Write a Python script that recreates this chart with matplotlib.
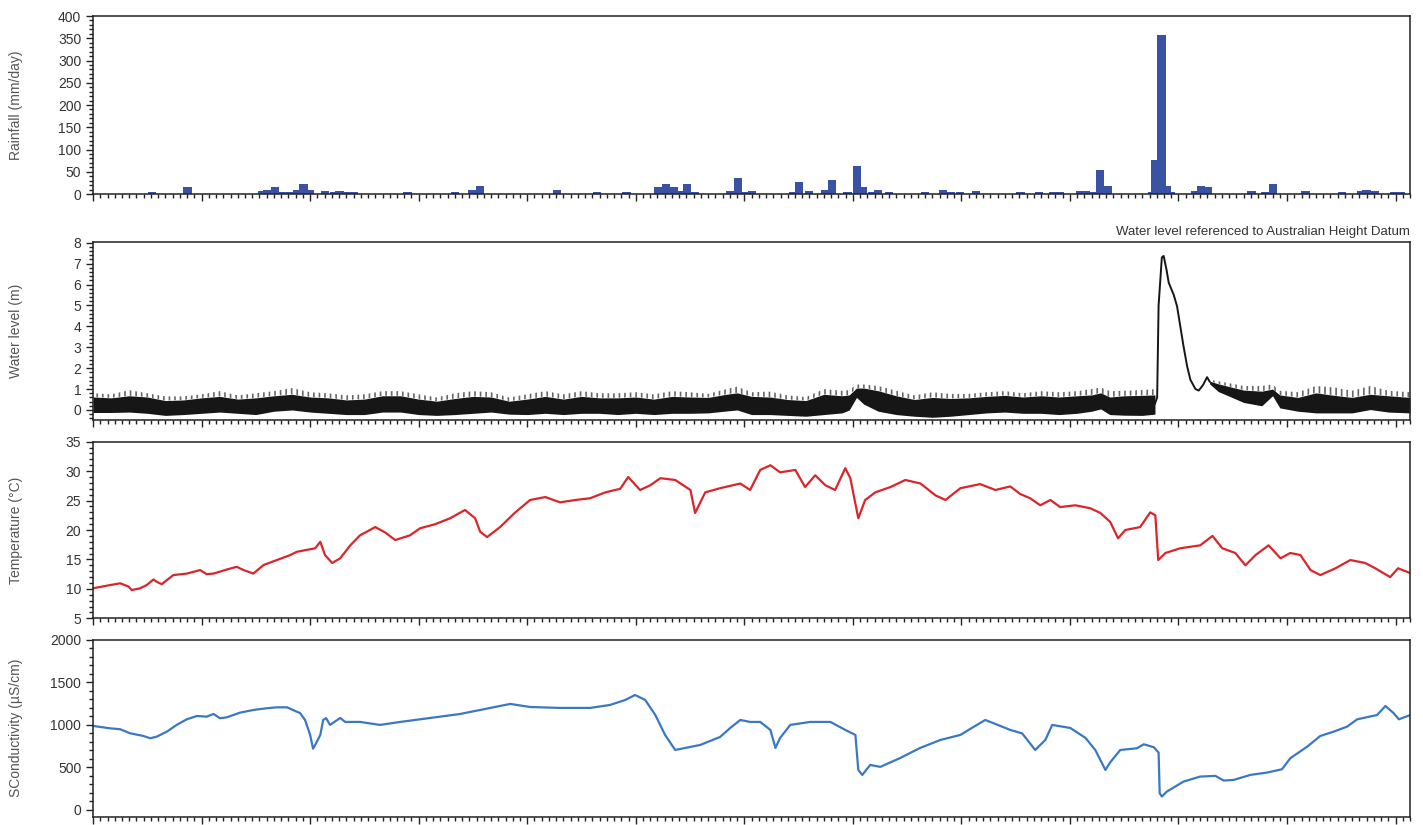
import numpy as np
import matplotlib
matplotlib.use('Agg')
import matplotlib.pyplot as plt
from matplotlib.ticker import MultipleLocator

plt.rcParams['font.family'] = ['Liberation Sans', 'DejaVu Sans']
plt.rcParams['hatch.linewidth'] = 1.2

# daily rainfall (day of record, mm/day)
rain_day = [16.2, 26.1, 46.6, 48.0, 50.2, 52.5, 54.7, 56.4, 58.2, 60.0, 64.1, 66.5, 68.1,
            69.8, 72.2, 86.9, 100.1, 104.8, 107.0, 128.3, 139.3, 147.4, 156.2, 158.3,
            160.6, 162.4, 164.2, 166.3, 176.1, 178.3, 180.1, 182.1, 193.5, 195.2, 197.8,
            202.4, 204.2, 208.5, 211.1, 212.7, 215.2, 216.9, 219.9, 230.0, 234.9, 237.2,
            239.7, 244.1, 256.3, 261.4, 265.4, 267.3, 272.9, 274.5, 276.6, 278.3, 280.6,
            292.6, 293.6, 295.3, 296.9, 298.0, 304.7, 306.3, 308.0, 320.2, 323.9, 326.1,
            335.1, 345.2, 350.4, 352.0, 354.2, 359.7, 361.4]
rain_mm = [4, 15, 6, 10, 15, 4, 4, 10, 22, 10, 6, 4, 6,
           4, 4, 4, 4, 10, 19, 10, 4, 4, 15, 22,
           15, 6, 22, 4, 6, 35, 4, 6, 4, 26, 6,
           10, 31, 4, 63, 15, 4, 10, 4, 4, 10, 4,
           4, 6, 4, 4, 4, 4, 6, 6, 4, 55, 19,
           4, 76, 358, 19, 4, 6, 19, 15, 6, 4, 22,
           6, 4, 6, 10, 6, 4, 4]

# water level tidal band: upper spikes, top of dense band, bottom of band (m AHD)
wl_day = [0, 5, 10, 15, 20, 25, 30, 35, 40, 45, 50, 55, 60, 65, 70, 75, 80, 85, 90, 95,
          100, 105, 110, 115, 120, 125, 130, 135, 140, 145, 150, 155, 160, 165, 170, 175,
          178, 182, 187, 192, 197, 202, 207, 209, 211, 213, 217, 222, 227, 232, 237, 242,
          247, 252, 257, 262, 267, 272, 276, 278.5, 281, 285, 290, 293.5,
          308.6, 311, 314, 318, 323, 326, 328, 333, 338, 343, 348, 353, 358, 364]
wl_up = [0.8, 0.75, 0.95, 0.8, 0.65, 0.65, 0.75, 0.9, 0.7, 0.8, 0.9, 1.05, 0.85, 0.8, 0.7,
         0.75, 0.9, 0.9, 0.75, 0.6, 0.8, 0.9, 0.85, 0.6, 0.75, 0.9, 0.75, 0.9, 0.8, 0.8,
         0.85, 0.75, 0.9, 0.85, 0.77, 1.0, 1.12, 0.85, 0.88, 0.7, 0.62, 1.0, 0.92, 0.95, 1.22,
         1.22, 1.15, 0.92, 0.7, 0.85, 0.77, 0.77, 0.85, 0.9, 0.8, 0.9, 0.85, 0.9, 1.0,
         1.08, 0.9, 0.92, 0.95, 1.0,
         1.45, 1.38, 1.28, 1.15, 1.15, 1.22, 0.92, 0.85, 1.15, 1.08, 0.92, 1.15, 0.92, 0.85]
wl_top = [0.62, 0.58, 0.68, 0.62, 0.45, 0.48, 0.58, 0.65, 0.52, 0.58, 0.68, 0.75, 0.62, 0.58,
          0.48, 0.52, 0.68, 0.68, 0.52, 0.42, 0.55, 0.65, 0.62, 0.42, 0.52, 0.65, 0.52, 0.65,
          0.58, 0.58, 0.62, 0.52, 0.65, 0.62, 0.6, 0.75, 0.82, 0.65, 0.62, 0.5, 0.45, 0.75,
          0.68, 0.72, 1.05, 1.05, 0.92, 0.68, 0.5, 0.6, 0.55, 0.58, 0.65, 0.7, 0.62, 0.68,
          0.62, 0.68, 0.72, 0.82, 0.62, 0.68, 0.7, 0.72,
          1.38, 1.25, 1.12, 0.95, 0.9, 1.0, 0.72, 0.6, 0.82, 0.7, 0.6, 0.75, 0.68, 0.6]
wl_bot = [-0.12, -0.12, -0.1, -0.16, -0.26, -0.22, -0.16, -0.1, -0.16, -0.22, -0.06, 0.0,
          -0.1, -0.16, -0.22, -0.22, -0.1, -0.1, -0.22, -0.26, -0.22, -0.16, -0.1, -0.2,
          -0.22, -0.16, -0.22, -0.16, -0.16, -0.22, -0.16, -0.22, -0.16, -0.16, -0.14,
          -0.05, 0.0, -0.22, -0.22, -0.26, -0.3, -0.22, -0.14, 0.0, 0.6, 0.28, -0.06, -0.22,
          -0.3, -0.35, -0.3, -0.22, -0.14, -0.1, -0.16, -0.16, -0.22, -0.16, -0.06, 0.05,
          -0.22, -0.25, -0.26, -0.2,
          1.25, 0.88, 0.66, 0.36, 0.2, 0.68, 0.1, -0.06, -0.14, -0.14, -0.14, 0.02, -0.1, -0.14]

# flood peak (single trace)
flood_day = [293.5, 294.1, 294.5, 295.4, 295.9, 296.7, 297.3, 298.7, 299.6, 300.5, 301.4,
             302.4, 303.3, 304.7, 305.6, 306.8, 307.9, 308.6]
flood_wl = [0.3, 0.6, 5.0, 7.3, 7.37, 6.7, 6.09, 5.5, 4.96, 4.0, 3.04,
            2.08, 1.44, 1.0, 0.93, 1.2, 1.57, 1.36]

# water temperature (deg C)
temp_day = [0, 4.7, 7.5, 9.8, 10.7, 13.0, 14.8, 16.7, 17.6, 19.0, 20.4, 22.2, 25.9, 29.6,
            31.4, 33.3, 37.0, 39.7, 41.6, 44.3, 47.1, 50.8, 54.5, 56.3, 61.4, 62.8, 64.1,
            66.1, 68.3, 71.1, 73.8, 78.0, 80.7, 83.5, 87.6, 90.4, 94.6, 98.7, 102.8, 105.6,
            107.0, 108.9, 112.5, 116.7, 120.8, 125.0, 129.1, 133.3, 137.4, 141.6, 145.7,
            147.9, 151.2, 154.0, 156.8, 160.9, 165.1, 166.4, 169.2, 173.3, 178.9, 181.6,
            184.4, 187.2, 189.9, 194.1, 196.8, 199.6, 202.4, 205.1, 207.9, 209.3, 211.5,
            213.4, 216.2, 220.4, 224.5, 228.7, 232.8, 235.6, 239.7, 245.2, 249.4, 253.5,
            256.3, 259.0, 261.8, 264.6, 267.3, 271.5, 275.6, 278.4, 281.1, 283.3, 285.3,
            289.4, 292.2, 293.6, 294.4, 296.4, 300.5, 306.0, 309.4, 312.1, 315.7, 318.5,
            321.3, 324.9, 328.2, 330.9, 333.7, 336.5, 339.2, 343.4, 347.5, 351.6, 354.4,
            358.5, 360.7, 364.0]
temp_c = [10.1, 10.65, 10.95, 10.4, 9.8, 10.1, 10.65, 11.6, 11.2, 10.8, 11.5, 12.35, 12.6,
          13.2, 12.5, 12.6, 13.3, 13.75, 13.2, 12.6, 14.05, 14.9, 15.75, 16.3, 16.9, 18.0,
          15.75, 14.4, 15.2, 17.4, 19.1, 20.5, 19.6, 18.3, 19.1, 20.3, 21.0, 22.0, 23.4,
          22.0, 19.7, 18.8, 20.5, 23.0, 25.1, 25.6, 24.7, 25.1, 25.4, 26.4, 27.0, 29.0,
          26.8, 27.6, 28.8, 28.5, 26.8, 22.9, 26.4, 27.1, 27.9, 26.8, 30.2, 31.0, 29.8,
          30.2, 27.3, 29.3, 27.6, 26.8, 30.5, 28.8, 22.0, 25.1, 26.4, 27.3, 28.5, 27.9,
          25.9, 25.1, 27.1, 27.8, 26.8, 27.4, 26.1, 25.4, 24.2, 25.1, 23.9, 24.2, 23.7,
          22.9, 21.4, 18.6, 20.0, 20.5, 23.0, 22.5, 14.9, 16.1, 16.9, 17.4, 19.0, 16.9,
          16.1, 14.0, 15.75, 17.4, 15.2, 16.1, 15.75, 13.2, 12.35, 13.5, 14.9, 14.4, 13.5,
          12.0, 13.5, 12.7]

# specific conductivity (uS/cm)
cond_day = [0, 4.7, 7.5, 10.2, 13.9, 15.8, 17.6, 20.4, 23.1, 25.9, 28.7, 31.4, 33.3, 35.1,
            37.0, 40.6, 44.3, 48.0, 50.8, 53.6, 56.3, 57.2, 58.6, 60.0, 60.8, 61.4, 62.8,
            63.6, 64.4, 65.5, 68.3, 69.7, 73.8, 79.3, 84.9, 93.2, 101.5, 109.8, 115.3,
            120.8, 129.1, 137.4, 142.9, 147.1, 149.8, 152.6, 155.4, 158.1, 160.9, 163.7,
            167.8, 173.3, 176.1, 178.9, 181.6, 184.4, 187.2, 188.6, 189.9, 192.7, 198.2,
            203.8, 207.9, 210.7, 211.5, 212.6, 214.8, 217.6, 223.1, 228.6, 234.2, 239.7,
            243.8, 246.6, 249.4, 253.5, 256.8, 260.4, 263.2, 265.1, 270.1, 274.3, 277.0,
            279.8, 281.2, 283.9, 288.5, 290.4, 293.2, 294.5, 294.8, 295.4, 296.8, 301.4,
            306.0, 310.2, 312.5, 315.3, 319.9, 324.5, 328.6, 330.9, 335.6, 339.2, 342.9,
            346.6, 349.4, 354.9, 357.2, 359.5, 360.9, 364.1]
cond_us = [988, 960, 949, 902, 870, 843, 862, 921, 1000, 1066, 1105, 1097, 1129, 1078,
           1090, 1144, 1176, 1196, 1207, 1207, 1156, 1140, 1058, 882, 720, 764, 882,
           1058, 1080, 1000, 1082, 1035, 1035, 1000, 1035, 1082, 1129, 1200, 1247,
           1211, 1200, 1200, 1235, 1294, 1352, 1294, 1117, 882, 705, 729,
           764, 858, 964, 1058, 1035, 1035, 941, 729, 847, 1000, 1035,
           1035, 941, 882, 470, 411, 529, 506, 611, 729, 823, 882,
           988, 1058, 1011, 941, 900, 705, 823, 1000, 964, 847, 705,
           470, 564, 705, 725, 772, 737, 674, 196, 157, 216, 333,
           392, 400, 345, 353, 412, 439, 478, 608, 745, 870, 921,
           980, 1066, 1117, 1223, 1137, 1066, 1117]

fig = plt.figure(figsize=(14.23, 8.25), dpi=100)
L, W = 0.0654, 0.9255
ax1 = fig.add_axes([L, 0.7648, W, 0.2158])
ax2 = fig.add_axes([L, 0.4909, W, 0.2161])
ax3 = fig.add_axes([L, 0.2505, W, 0.2141])
ax4 = fig.add_axes([L, 0.0101, W, 0.2142])

# rainfall
ax1.bar(rain_day, rain_mm, width=2.3, color='#3a52a3', linewidth=0)
ax1.set_ylim(0, 400)
ax1.yaxis.set_major_locator(MultipleLocator(50))
ax1.yaxis.set_minor_locator(MultipleLocator(10))
ax1.set_ylabel('Rainfall (mm/day)')

# water level: band before and after the flood, drawn in two pieces
k = wl_day.index(308.6)
for sl in [slice(0, k), slice(k, None)]:
    ax2.fill_between(wl_day[sl], wl_top[sl], wl_up[sl], facecolor='none',
                     edgecolor='0.4', hatch='|||', linewidth=0)
    ax2.fill_between(wl_day[sl], wl_bot[sl], wl_top[sl], color='#161616', linewidth=0)
ax2.plot(flood_day, flood_wl, color='#161616', lw=1.4)
ax2.set_ylim(-0.48, 8.05)
ax2.yaxis.set_major_locator(MultipleLocator(1))
ax2.yaxis.set_minor_locator(MultipleLocator(0.2))
ax2.set_ylabel('Water level (m)')
ax2.set_title('Water level referenced to Australian Height Datum', loc='right',
              fontsize=9.5, color='#333333', pad=5)

# temperature
ax3.plot(temp_day, temp_c, color='#d9262b', lw=1.6)
ax3.set_ylim(5, 35)
ax3.yaxis.set_major_locator(MultipleLocator(5))
ax3.yaxis.set_minor_locator(MultipleLocator(1))
ax3.set_ylabel('Temperature (°C)')

# conductivity
ax4.plot(cond_day, cond_us, color='#3a78c5', lw=1.6)
ax4.set_ylim(-80, 2000)
ax4.yaxis.set_major_locator(MultipleLocator(500))
ax4.yaxis.set_minor_locator(MultipleLocator(100))
ax4.set_ylabel('SConductivity (µS/cm)')

for ax in [ax1, ax2, ax3, ax4]:
    ax.set_xlim(0, 364)
    ax.xaxis.set_major_locator(MultipleLocator(30))
    ax.xaxis.set_minor_locator(MultipleLocator(2))
    ax.tick_params(which='both', direction='out', color='#222222', width=1)
    ax.tick_params(which='major', length=5, labelsize=10, labelcolor='#333333')
    ax.tick_params(which='minor', length=3)
    ax.tick_params(axis='x', labelbottom=False)
    for s in ax.spines.values():
        s.set_linewidth(1.1)
        s.set_color('#222222')
    ax.yaxis.label.set_color('#555555')
    ax.yaxis.label.set_fontsize(10)
    ax.yaxis.set_label_coords(-0.053, 0.5)

plt.savefig('out.png', dpi=100)
plt.close()
